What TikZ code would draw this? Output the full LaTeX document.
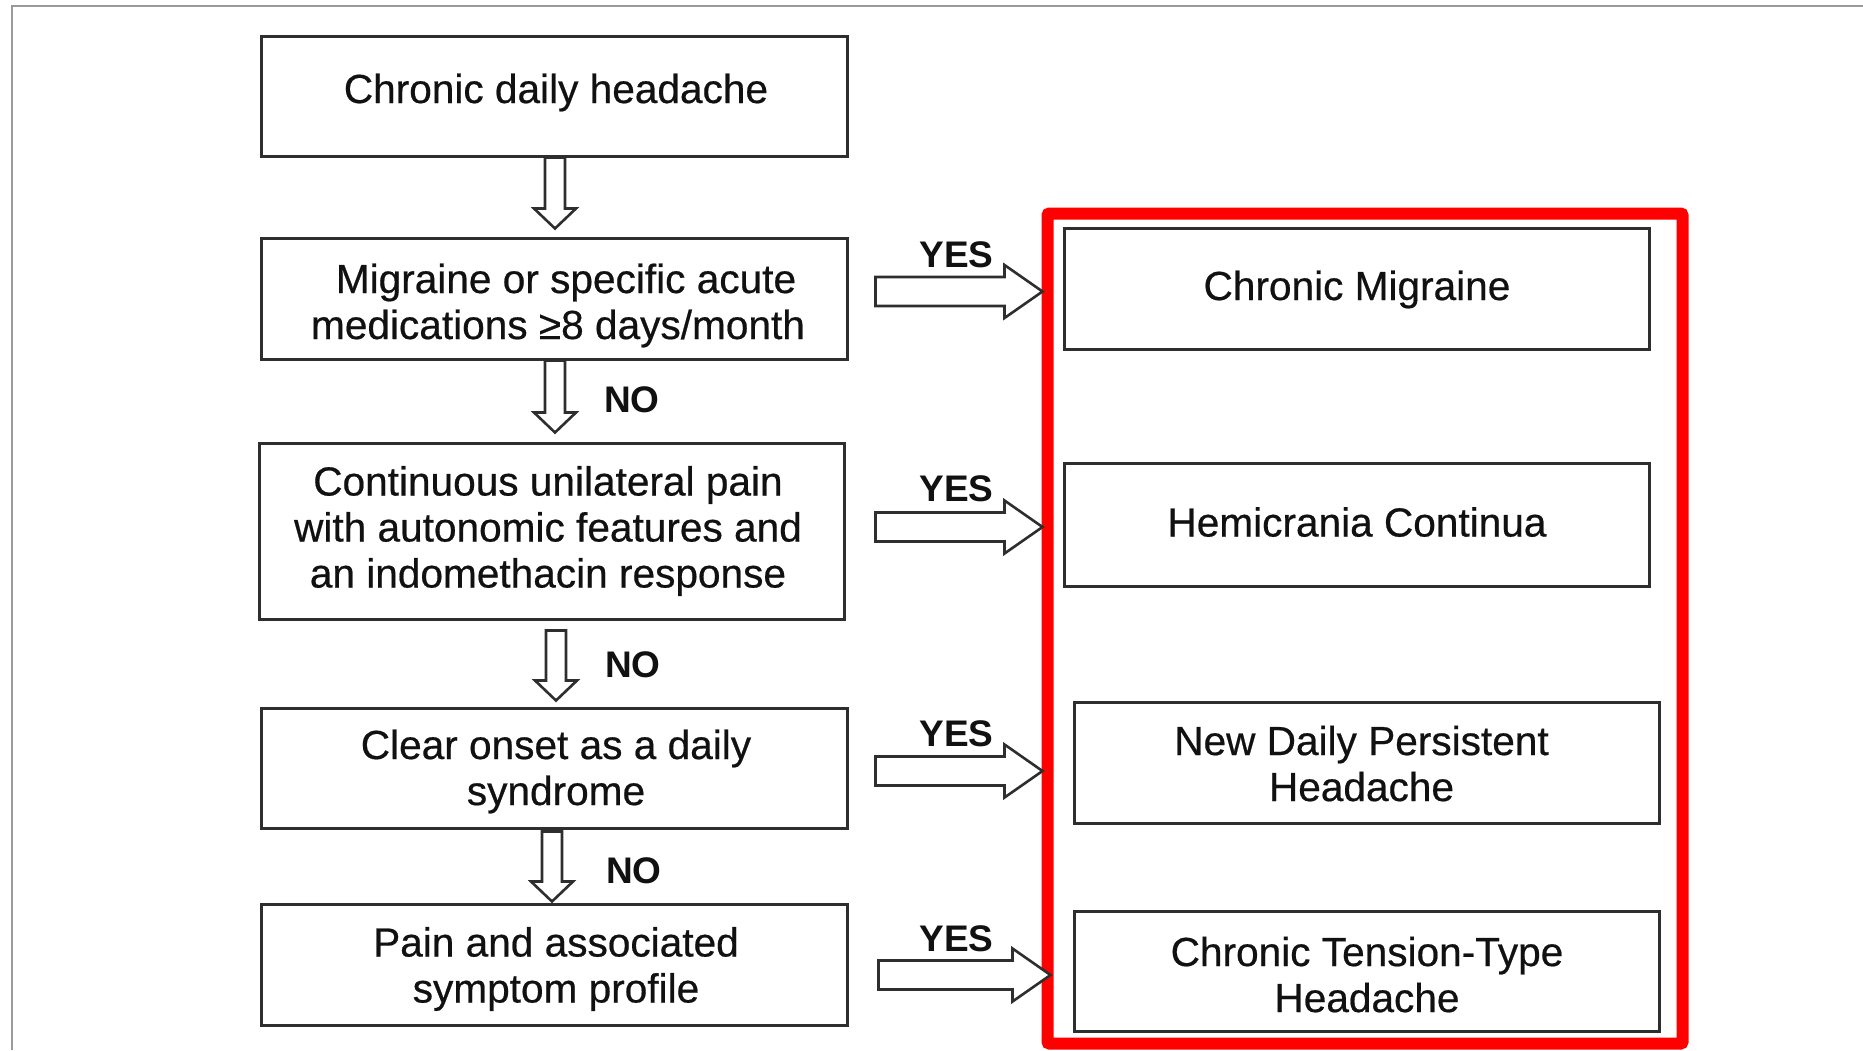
\documentclass[tikz,border=0pt]{standalone}
\usepackage{fontspec}
\setmainfont{Liberation Sans}[FakeBold=0.5]
\newfontfamily\labfont{Liberation Sans}
\usetikzlibrary{calc}
\definecolor{boxline}{HTML}{2E2E2E}
\definecolor{txt}{HTML}{111111}
\definecolor{framegray}{HTML}{9A9A9A}
\definecolor{redframe}{HTML}{FF0000}
\tikzset{
  qbox/.style={draw=boxline, line width=3pt, fill=white, inner sep=0pt},
  qtext/.style={inner sep=0pt, align=center, text=txt, font=\fontsize{40.6}{46}\selectfont},
  blk/.style={draw=boxline, line width=2.6pt, fill=white, line join=miter},
  yeslab/.style={font=\labfont\fontsize{37}{40}\selectfont\bfseries, text=txt, inner sep=0pt},
}
\newcommand\vblk[2]{%
  \draw[blk] let \p1=#1, \p2=#2 in
    (\x1-10pt,\y1) -- (\x1+10pt,\y1) -- (\x1+10pt,\y2+20pt) -- (\x1+21pt,\y2+20pt)
    -- (\x1,\y2) -- (\x1-21pt,\y2+20pt) -- (\x1-10pt,\y2+20pt) -- cycle;}
\newcommand\hblk[2]{%
  \draw[blk] let \p1=#1, \p2=#2 in
    (\x1,\y1+14.5pt) -- (\x2-38pt,\y1+14.5pt) -- (\x2-38pt,\y1+26.5pt) -- (\x2,\y1)
    -- (\x2-38pt,\y1-26.5pt) -- (\x2-38pt,\y1-14.5pt) -- (\x1,\y1-14.5pt) -- cycle;}
\begin{document}
\begin{tikzpicture}[x=1pt, y=-1pt]
\useasboundingbox[fill=white] (0,0) rectangle (1863,1050);
% outer frame (top and left edges visible)
\draw[framegray, line width=2pt] (12,1050) -- (12,6) -- (1863,6);

% left column boxes
\node[qbox, minimum width=586pt, minimum height=120pt] (b1) at (554,96) {};
\node[qbox, minimum width=586pt, minimum height=121pt] (b2) at (554,298.5) {};
\node[qbox, minimum width=585pt, minimum height=176pt] (b3) at (551.5,531) {};
\node[qbox, minimum width=586pt, minimum height=120pt] (b4) at (554,768) {};
\node[qbox, minimum width=586pt, minimum height=121pt] (b5) at (554,964.5) {};

% red frame
\draw[redframe, line width=12pt, rounded corners=2pt] (1047.5,213.5) rectangle (1682.5,1043.5);

% right column boxes
\node[qbox, minimum width=585pt, minimum height=121pt] (r1) at (1356.5,288.5) {};
\node[qbox, minimum width=585pt, minimum height=123pt] (r2) at (1356.5,524.5) {};
\node[qbox, minimum width=585pt, minimum height=121pt] (r3) at (1366.5,762.5) {};
\node[qbox, minimum width=585pt, minimum height=120pt] (r4) at (1366.5,971) {};

% box texts
\node[qtext] (t1) at ($(b1)+(2,-3.5)$) {Chronic daily headache};
\node[qtext] (t2) at ($(b2)+(4,7)$) {\hspace*{16pt}Migraine or specific acute\\medications ≥8 days/month};
\node[qtext] (t3) at ($(b3)+(-3.5,0)$) {Continuous unilateral pain\\with autonomic features and\\an indomethacin response};
\node[qtext] (t4) at ($(b4)+(2,3.5)$) {Clear onset as a daily\\syndrome};
\node[qtext] (t5) at ($(b5)+(2,4.5)$) {Pain and associated\\symptom profile};
\node[qtext] (u1) at ($(r1)+(0.5,1)$) {Chronic Migraine};
\node[qtext] (u2) at ($(r2)+(0.5,-2.5)$) {Hemicrania Continua};
\node[qtext] (u3) at ($(r3)+(-5,1)$) {New Daily Persistent\\Headache};
\node[qtext] (u4) at ($(r4)+(0.5,3.5)$) {Chronic Tension-Type\\Headache};

% down arrows
\vblk{($(b1.south)+(1,0)$)}{($(b2.north)+(1,-8)$)}
\vblk{($(b2.south)+(1,0)$)}{($(b3.north)+(3.5,-9)$)}
\vblk{($(b3.south)+(4.5,10)$)}{($(b4.north)+(2,-6)$)}
\vblk{($(b4.south)+(-2,2)$)}{($(b5.north)+(-2,-1)$)}

% NO labels
\node[yeslab] (no1) at ($(b2.south)!0.5!(b3.north)+(79,-1.5)$) {NO};
\node[yeslab] (no2) at ($(b3.south)!0.5!(b4.north)+(80,1)$) {NO};
\node[yeslab] (no3) at ($(b4.south)!0.5!(b5.north)+(80,5)$) {NO};

% yes arrows
\hblk{($(b2.east|-r1.west)+(27,3)$)}{($(r1.west)+(-20,3)$)}
\hblk{($(b3.east|-r2.west)+(30,2.5)$)}{($(r2.west)+(-20,2.5)$)}
\hblk{($(b4.east|-r3.west)+(27,8.5)$)}{($(r3.west)+(-30,8.5)$)}
\hblk{($(b5.east|-r4.west)+(30,4)$)}{($(r4.west)+(-22,4)$)}

% YES labels
\node[yeslab] (y1) at ($(b2.east|-r1.west)+(108,-34)$) {YES};
\node[yeslab] (y2) at ($(b3.east|-r2.west)+(111,-36)$) {YES};
\node[yeslab] (y3) at ($(b4.east|-r3.west)+(108,-28.5)$) {YES};
\node[yeslab] (y4) at ($(b5.east|-r4.west)+(108,-32)$) {YES};
\end{tikzpicture}
\end{document}
